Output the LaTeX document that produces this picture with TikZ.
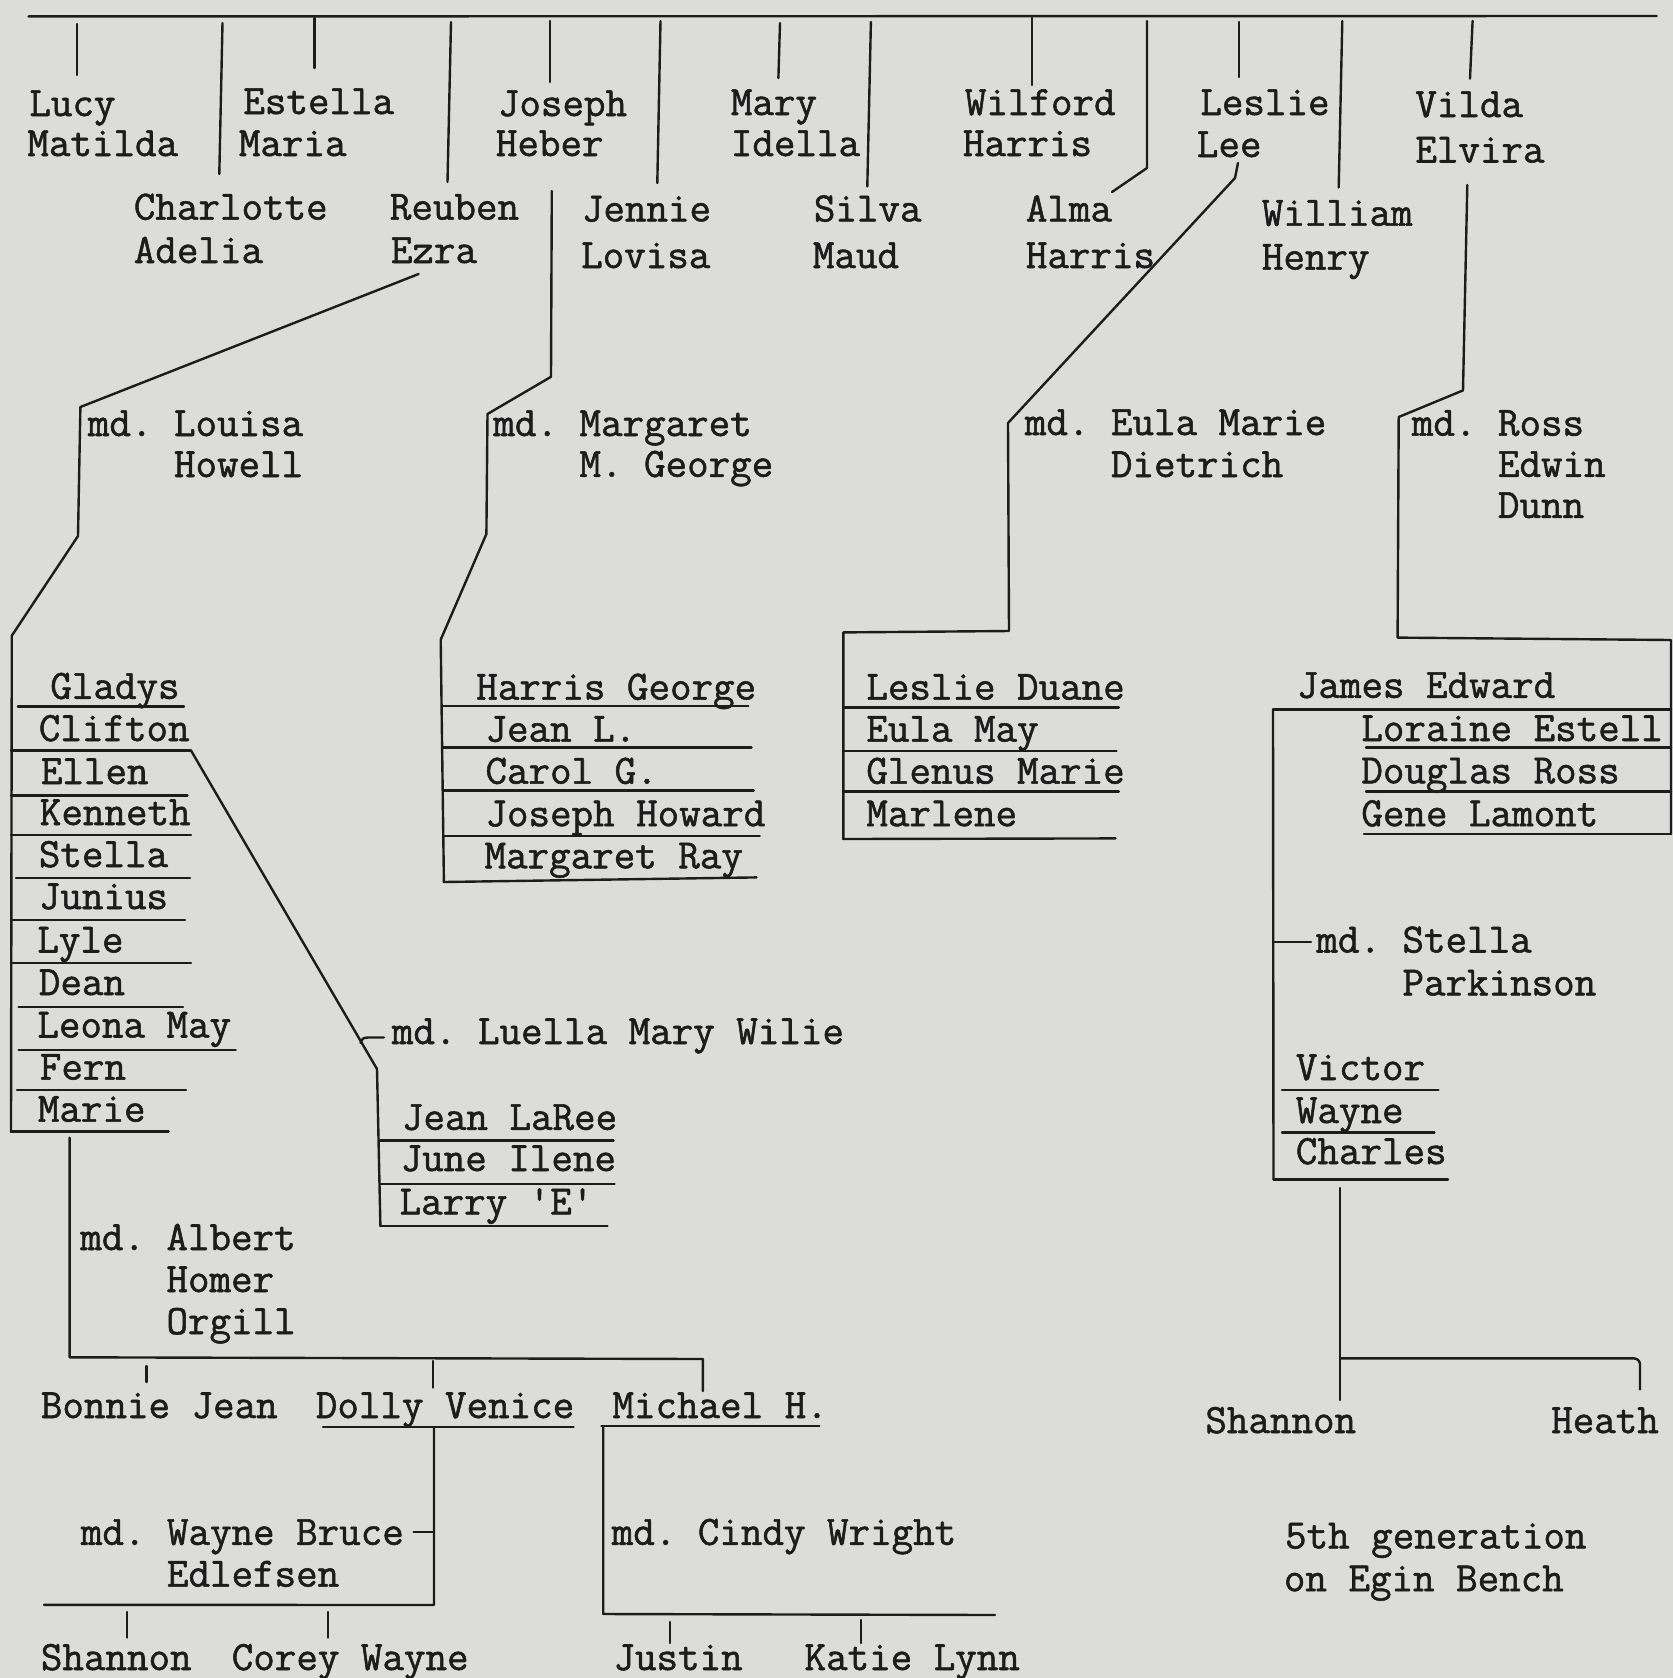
\documentclass[tikz,border=0pt]{standalone}
\usepackage{fontspec}
\newfontfamily\twf[FakeBold=1.3]{lmmono12-regular.otf}
\definecolor{paper}{RGB}{220,221,219}
\definecolor{ink}{RGB}{28,28,28}
\newcommand\tw{\fontsize{20.9}{25}\selectfont\twf\frenchspacing}
\newcommand\mdsp{\phantom{md. }}
\tikzset{
  t/.style={anchor=base west, inner sep=0pt, font=\tw, text=ink},
  ln/.style={draw=ink, line width=1.2pt, line cap=round, line join=round}
}
\begin{document}
\begin{tikzpicture}[x=0.5pt,y=-0.5pt]
\fill[paper] (0,0) rectangle (1673,1678);
\useasboundingbox (0,0) rectangle (1673,1678);

% ---------- top bar and drops ----------
\draw[ln] (28.6,16.4) -- (1656.6,16);
\draw[ln] (76.8,24) -- (76.8,75);
\draw[ln] (314.3,18) -- (314.3,68);
\draw[ln] (550,21) -- (550,82);
\draw[ln] (780,23) -- (778.4,78);
\draw[ln] (1032,18) -- (1032,85);
\draw[ln] (1238.7,22) -- (1238.7,77);
\draw[ln] (1472.6,21) -- (1470,78.6);
\draw[ln] (222.5,23) -- (219.3,174);
\draw[ln] (451,22) -- (447.5,182);
\draw[ln] (660.5,21) -- (657.3,183);
\draw[ln] (870.9,22) -- (867.3,186.4);
\draw[ln] (1147,21) -- (1147,168) -- (1112,192);
\draw[ln] (1342.3,21) -- (1338.7,187.5);

% ---------- first row names ----------
\node[t] (lucy) at (29,116) {Lucy};
\node[t] (lucy2) at (27,156) {Matilda};
\node[t] (estella) at (243,114) {Estella};
\node[t] (estella2) at (238.5,156) {Maria};
\node[t] (joseph) at (497.5,116) {Joseph};
\node[t] (joseph2) at (495.5,156) {Heber};
\node[t] (mary) at (730.5,115) {Mary};
\node[t] (mary2) at (730.5,156) {Idella};
\node[t] (wilford) at (964.5,115) {Wilford};
\node[t] (wilford2) at (962.5,156) {Harris};
\node[t] (leslie) at (1200,115) {Leslie};
\node[t] (leslie2) at (1196.5,157) {Lee};
\node[t] (vilda) at (1415,117) {Vilda};
\node[t] (vilda2) at (1415,162.5) {Elvira};

% ---------- second row names ----------
\node[t] (charlotte) at (133.5,219.6) {Charlotte};
\node[t] (charlotte2) at (133.5,263) {Adelia};
\node[t] (reuben) at (389.5,219.6) {Reuben};
\node[t] (reuben2) at (390.5,263) {Ezra};
\node[t] (jennie) at (581.5,221.4) {Jennie};
\node[t] (jennie2) at (580.8,268) {Lovisa};
\node[t] (silva) at (813.5,221.4) {Silva};
\node[t] (silva2) at (812.5,268) {Maud};
\node[t] (alma) at (1025.5,221.4) {Alma};
\node[t] (alma2) at (1025.5,268) {Harris};
\node[t] (william) at (1261.5,225.7) {William};
\node[t] (william2) at (1261.5,269.6) {Henry};

% ---------- spouses ----------
\node[t] (louisa) at (87.5,436) {md. Louisa};
\node[t] (louisa2) at (87.5,477) {\mdsp Howell};
\node[t] (margaret) at (493,436) {md. Margaret};
\node[t] (margaret2) at (493,476.8) {\mdsp M. George};
\node[t] (eula) at (1024.5,435) {md. Eula Marie};
\node[t] (eula2) at (1024.5,477) {\mdsp Dietrich};
\node[t] (ross) at (1411.5,435.7) {md. Ross};
\node[t] (ross2) at (1411.5,476.8) {\mdsp Edwin};
\node[t] (ross3) at (1411.5,517.9) {\mdsp Dunn};

% ---------- spouse connectors ----------
\draw[ln] (418.6,274) -- (80.4,407) -- (78,536) -- (11.8,635.7) -- (11,1132);
\draw[ln] (551.8,191) -- (551,376.8) -- (487.5,414) -- (486.4,534) -- (440.7,639.7) -- (443.9,882);
\draw[ln] (1238,163) -- (1235,178) -- (1008,423) -- (1009,631) -- (843.3,632.4) -- (843.3,839);
\draw[ln] (1467.3,185) -- (1463,390.4) -- (1398.7,417) -- (1397.6,637.6) -- (1671,640) -- (1671,833.8);

% ---------- Louisa Howell's children ----------
\node[t] (gladys) at (50,698.8) {Gladys};
\node[t] (clifton) at (38.5,741) {Clifton};
\node[t] (ellen) at (40.5,784) {Ellen};
\node[t] (kenneth) at (39.5,825) {Kenneth};
\node[t] (stella) at (38.5,867) {Stella};
\node[t] (junius) at (38.5,909) {Junius};
\node[t] (lyle) at (37,952.5) {Lyle};
\node[t] (dean) at (38.5,995) {Dean};
\node[t] (leona) at (37,1037.5) {Leona May};
\node[t] (fern) at (39.5,1079.6) {Fern};
\node[t] (marie) at (37.5,1121.7) {Marie};
\draw[ln] (17.9,706.5) -- (184,706.5);
\draw[ln] (11,750.5) -- (191,750.5);
\draw[ln] (11,795.6) -- (187.5,795.6);
\draw[ln] (11,834.7) -- (191,834.7);
\draw[ln] (16,878) -- (190,878);
\draw[ln] (11,920) -- (185,920);
\draw[ln] (11,963) -- (191,963);
\draw[ln] (18.6,1007) -- (183,1007);
\draw[ln] (18.6,1050) -- (235.7,1050);
\draw[ln] (17,1090) -- (186,1090);
\draw[ln] (11,1131.5) -- (168.6,1131.5);

% ---------- Clifton md. Luella ----------
\draw[ln] (191,750.5) -- (377,1069) -- (380.4,1226);
\draw[ln] (360.5,1043) .. controls (363,1037.5) .. (371,1037.5) -- (384,1037.5);
\node[t] (luella) at (391.5,1044) {md. Luella Mary Wilie};
\node[t] (jeanlaree) at (401.5,1129.8) {Jean LaRee};
\node[t] (june) at (400.3,1171) {June Ilene};
\node[t] (larry) at (399.2,1214.4) {Larry \textquotesingle E\textquotesingle};
\draw[ln] (380,1140.5) -- (613.6,1140.5);
\draw[ln] (380,1184) -- (614.6,1184);
\draw[ln] (380.4,1226) -- (607.5,1226);

% ---------- Margaret George's children ----------
\node[t] (harris) at (475.9,699.6) {Harris George};
\node[t] (jeanl) at (485.1,741.6) {Jean L.};
\node[t] (carol) at (485.1,783.7) {Carol G.};
\node[t] (josephh) at (485.1,826.2) {Joseph Howard};
\node[t] (margray) at (484.2,868.3) {Margaret Ray};
\draw[ln] (443,705.7) -- (748.3,705.7);
\draw[ln] (443,747.3) -- (751.5,747.3);
\draw[ln] (443,790.6) -- (753.8,790.6);
\draw[ln] (443.3,836.2) -- (759.8,836.2);
\draw[ln] (443.9,882) -- (756.5,877.4);

% ---------- Eula Marie Dietrich's children ----------
\node[t] (leslied) at (866,699.6) {Leslie Duane};
\node[t] (eulamay) at (866,741.6) {Eula May};
\node[t] (glenus) at (866,783.7) {Glenus Marie};
\node[t] (marlene) at (866,826.2) {Marlene};
\draw[ln] (843.3,707.4) -- (1118.8,707.4);
\draw[ln] (843.3,751.2) -- (1116.5,751.2);
\draw[ln] (843.3,791.5) -- (1118.8,791.5);
\draw[ln] (843.3,839) -- (1115.6,838.4);

% ---------- Ross Edwin Dunn's children ----------
\node[t] (james) at (1296.5,697.8) {James Edward};
\node[t] (loraine) at (1361,741) {Loraine Estell};
\node[t] (douglas) at (1361,783.3) {Douglas Ross};
\node[t] (gene) at (1361,826.2) {Gene Lamont};
\draw[ln] (1273,709.6) -- (1671,709.6);
\draw[ln] (1366,747.5) -- (1671,747.5);
\draw[ln] (1366,791.3) -- (1671,791.3);
\draw[ln] (1364,833.8) -- (1671,833.8);
\draw[ln] (1273,709.6) -- (1273.5,1179.5);
\draw[ln] (1273.3,942) -- (1311,942);
\node[t] (stellap) at (1316,952.5) {md. Stella};
\node[t] (stellap2) at (1316,995.4) {\mdsp Parkinson};
\node[t] (victor) at (1295.5,1080) {Victor};
\node[t] (wayne) at (1295.5,1123) {Wayne};
\node[t] (charles) at (1295.5,1164) {Charles};
\draw[ln] (1282,1090) -- (1438.4,1090);
\draw[ln] (1282,1132.6) -- (1434.4,1132.6);
\draw[ln] (1273.5,1179.5) -- (1448,1179.5);
\draw[ln] (1340,1188) -- (1340,1400);
\draw[ln, rounded corners=3pt] (1340,1358.4) -- (1640,1358.4) -- (1640,1389.4);
\node[t] (shannon1) at (1205,1433) {Shannon};
\node[t] (heath) at (1550.8,1433) {Heath};
\node[t] (gen5) at (1284.7,1548.4) {5th generation};
\node[t] (gen5b) at (1283.5,1591.2) {on Egin Bench};

% ---------- Marie md. Albert Homer Orgill ----------
\draw[ln] (69.6,1137.6) -- (69.6,1357.3) -- (702.9,1359) -- (702.9,1391);
\draw[ln] (146.4,1366) -- (146.4,1382);
\draw[ln] (433.2,1361) -- (433.2,1387.6);
\node[t] (albert) at (80,1250) {md. Albert};
\node[t] (albert2) at (80,1292) {\mdsp Homer};
\node[t] (albert3) at (80,1334) {\mdsp Orgill};
\node[t] (bonnie) at (40.5,1418) {Bonnie Jean};
\node[t] (dolly) at (315.5,1418) {Dolly Venice};
\node[t] (michael) at (612.1,1418) {Michael H.};
\draw[ln] (323,1427) -- (573.6,1427);
\draw[ln] (601.4,1426) -- (819.3,1426);

% Dolly md. Wayne Bruce Edlefsen
\draw[ln] (434,1427) -- (434,1605) -- (44,1604.8);
\draw[ln] (413.6,1532) -- (434,1532);
\node[t] (waynebruce) at (80.5,1544.8) {md. Wayne Bruce};
\node[t] (waynebruce2) at (80.5,1586.6) {\mdsp Edlefsen};
\draw[ln] (126.8,1612) -- (126.8,1637.6);
\draw[ln] (327.9,1612) -- (327.9,1637.6);
\node[t] (shannon2) at (40.5,1670) {Shannon};
\node[t] (corey) at (231.4,1670) {Corey Wayne};

% Michael md. Cindy Wright
\draw[ln] (603.2,1426) -- (603.2,1614) -- (995,1615);
\node[t] (cindy) at (611.4,1544.8) {md. Cindy Wright};
\draw[ln] (670,1622) -- (670,1643);
\draw[ln] (861,1620) -- (861,1643);
\node[t] (justin) at (613.1,1670) {Justin};
\node[t] (katie) at (804.2,1670) {Katie Lynn};
\end{tikzpicture}
\end{document}
